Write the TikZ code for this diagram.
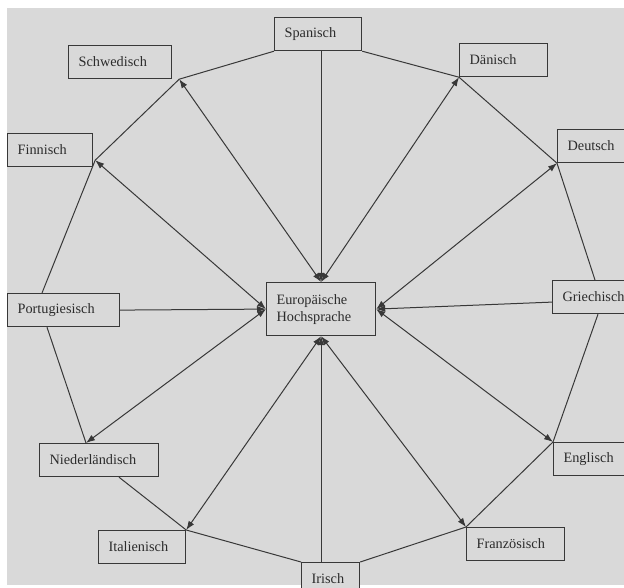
\documentclass[tikz,border=0pt]{standalone}
\usepackage{fontspec}
\setmainfont{Liberation Serif}
\usetikzlibrary{arrows.meta}
\definecolor{scangrey}{HTML}{D9D9D9}
\definecolor{inkcol}{HTML}{383838}
\definecolor{textcol}{HTML}{2B2B2B}

\begin{document}
\begin{tikzpicture}[x=1pt,y=-1pt,
	lang/.style={draw=inkcol,line width=1.2pt,fill=scangrey,anchor=north west,align=left,
		inner xsep=10pt,inner ysep=0pt,text width=#1,minimum height=33pt,text=textcol,
		font=\fontsize{14.3}{17}\selectfont},
	link/.style={draw=inkcol,line width=1pt},
	tip/.style={link,{Latex[length=9pt,width=6.5pt]}-},
	tips/.style={link,{Latex[length=9pt,width=6.5pt]}-{Latex[length=9pt,width=6.5pt]}}]
\useasboundingbox (0,0) rectangle (624,588);
\clip (0,0) rectangle (624,588);
\fill[white] (0,0) rectangle (624,588);
\fill[scangrey] (7,8) rectangle (624,585);
\foreach \nm/\txt/\x/\y/\w in {
	spa/Spanisch/274/17/67,
	schw/Schwedisch/68/45/83,
	dan/Dänisch/459/43/68,
	deu/Deutsch/557/129/60,
	fin/Finnisch/7/133/65,
	por/Portugiesisch/7/293/92,
	gri/Griechisch/552/280/70,
	nie/Niederländisch/39/443/99,
	ita/Italienisch/98/530/67,
	iri/Irisch/301/562/38,
	eng/Englisch/553/442/60,
	fra/Französisch/466/527/78%
	}{
	\node[lang=\w pt] (\nm) at (\x,\y) {\txt};
	}
\node[lang=89pt,minimum height=53pt] (hoch) at (266,282) {Europäische\\Hochsprache};

\coordinate (v-schw) at ([shift={(7,0)}]schw.south east);
\coordinate (v-fin) at ([shift={(2,-7)}]fin.south east);
\coordinate (v-por1) at ([shift={(35,0)}]por.north west);
\coordinate (v-por2) at ([shift={(40,0)}]por.south west);
\coordinate (v-nie1) at ([shift={(47,0)}]nie.north west);
\coordinate (v-nie2) at ([shift={(80,0)}]nie.south west);
\coordinate (v-gri1) at ([shift={(43,0)}]gri.north west);
\coordinate (v-gri2) at ([shift={(46,0)}]gri.south west);

\draw[link] (spa.south west) -- (v-schw) -- (v-fin) -- (v-por1);
\draw[link] (v-por2) -- (v-nie1);
\draw[link] (v-nie2) -- (ita.north east) -- (iri.north west);
\draw[link] (iri.north east) -- (fra.north west) -- (eng.north west) -- (v-gri2);
\draw[link] (v-gri1) -- (deu.south west) -- (dan.south west) -- (spa.south east);

\draw[tip] (hoch.north) -- (hoch.north |- spa.south);
\draw[tips] (hoch.north) -- (v-schw);
\draw[tips] (hoch.north) -- (dan.south west);
\draw[tips] (hoch.west) -- (v-fin);
\draw[tip] (hoch.west) -- (por.east);
\draw[tips] (hoch.west) -- (v-nie1);
\draw[tips] (hoch.east) -- (deu.south west);
\draw[tip] (hoch.east) -- ([yshift=-5pt]gri.west);
\draw[tips] (hoch.east) -- (eng.north west);
\draw[tips] (hoch.south) -- (ita.north east);
\draw[tip] (hoch.south) -- (hoch.south |- iri.north);
\draw[tips] (hoch.south) -- (fra.north west);
\end{tikzpicture}
\end{document}
